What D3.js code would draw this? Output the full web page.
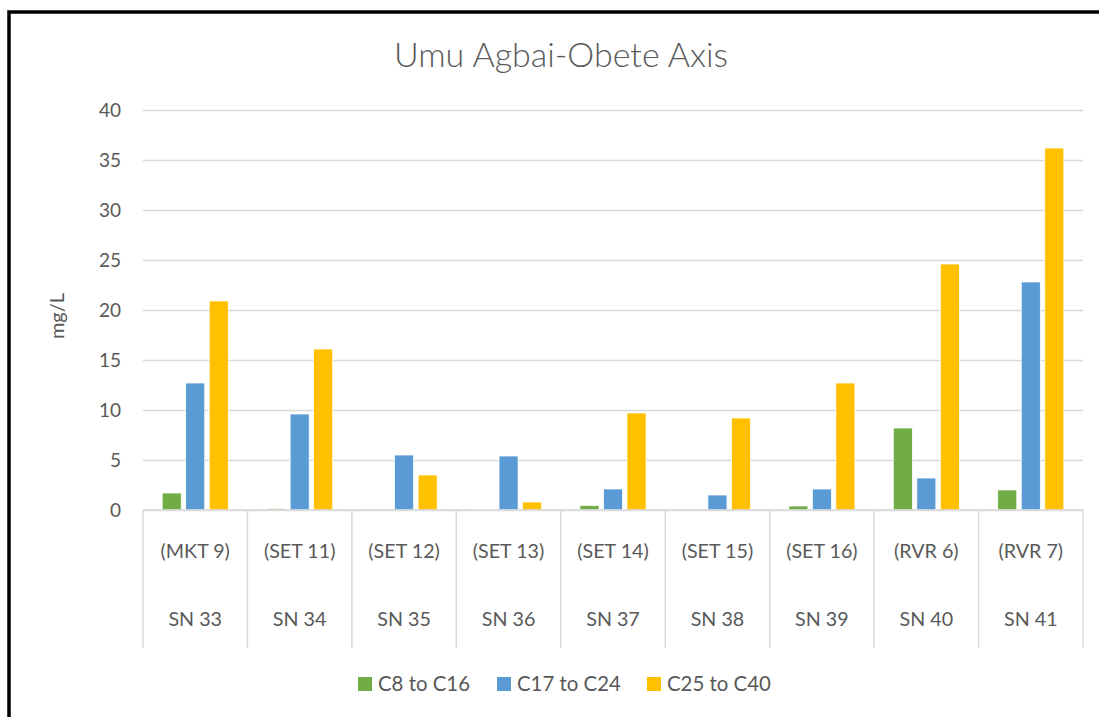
<!DOCTYPE html>
<html>
<head>
<meta charset="utf-8">
<script src="https://cdn.jsdelivr.net/npm/d3@7"></script>
<style>
  body { margin: 0; background: #fff; }
  text { font-family: Lato, "Open Sans", sans-serif; fill: #595959; }
</style>
</head>
<body>
<div id="vis"></div>
<script>
const width = 1099, height = 717;

// chart data
const sites = ["(MKT 9)", "(SET 11)", "(SET 12)", "(SET 13)", "(SET 14)", "(SET 15)", "(SET 16)", "(RVR 6)", "(RVR 7)"];
const samples = ["SN 33", "SN 34", "SN 35", "SN 36", "SN 37", "SN 38", "SN 39", "SN 40", "SN 41"];
const seriesNames = ["C8 to C16", "C17 to C24", "C25 to C40"];
const c8to16 = [1.7, 0.15, 0.1, 0.05, 0.45, 0.1, 0.4, 8.2, 2.0];
const c17to24 = [12.7, 9.6, 5.5, 5.4, 2.1, 1.5, 2.1, 3.2, 22.8];
const c25to40 = [20.9, 16.1, 3.5, 0.8, 9.7, 9.2, 12.7, 24.6, 36.2];
const yTicks = [0, 5, 10, 15, 20, 25, 30, 35, 40];

const colors = ["#70AD47", "#5B9BD5", "#FFC000"];
const seriesValues = [c8to16, c17to24, c25to40];

var svg = d3.select("#vis").append("svg")
  .attr("width", width).attr("height", height);

// chart frame (only left and top are visible in the crop)
svg.append("rect")
  .attr("x", 9).attr("y", 12)
  .attr("width", 1200).attr("height", 800)
  .attr("fill", "none")
  .attr("stroke", "#000")
  .attr("stroke-width", 3.5);

const plot = { left: 143, right: 1083, top: 110, bottom: 510 };

var x0 = d3.scaleBand().domain(samples).range([plot.left, plot.right]).padding(0);
var x1 = d3.scaleBand().domain(seriesNames)
  .range([0, x0.bandwidth()])
  .paddingInner(0.19).paddingOuter(0.815);
var y = d3.scaleLinear().domain([0, 40]).range([plot.bottom, plot.top]);

// title
svg.append("text")
  .attr("x", 561)
  .attr("y", 67)
  .attr("text-anchor", "middle")
  .attr("font-size", 34)
  .attr("font-weight", 300)
  .text("Umu Agbai-Obete Axis");

// gridlines + y labels
const yAxis = d3.axisLeft(y).tickValues(yTicks)
  .tickSize(-(plot.right - plot.left)).tickPadding(22);
const yG = svg.append("g")
  .attr("transform", `translate(${plot.left},0)`)
  .call(yAxis);
yG.select(".domain").remove();
yG.selectAll(".tick line").attr("stroke", "#d9d9d9").attr("stroke-width", 1.5);
yG.selectAll(".tick text")
  .attr("font-size", 19)
  .attr("font-family", "Lato, sans-serif")
  .attr("fill", "#595959");

// y title
svg.append("text")
  .attr("transform", `translate(64,${(plot.top + plot.bottom) / 2 + 6}) rotate(-90)`)
  .attr("text-anchor", "middle")
  .attr("font-size", 20)
  .text("mg/L");

// bars
const groups = svg.append("g").selectAll("g")
  .data(samples)
  .join("g")
  .attr("transform", (d) => `translate(${x0(d)},0)`);

groups.selectAll("rect")
  .data((d, i) => seriesNames.map((s, j) => ({ key: s, value: seriesValues[j][i], color: colors[j] })))
  .join("rect")
  .attr("x", (d) => x1(d.key))
  .attr("y", (d) => y(d.value))
  .attr("width", x1.bandwidth())
  .attr("height", (d) => y(0) - y(d.value))
  .attr("fill", (d) => d.color)
  .attr("stroke", "#fff")
  .attr("stroke-width", 0.75);

// axis baseline
svg.append("line")
  .attr("x1", plot.left).attr("x2", plot.right)
  .attr("y1", y(0)).attr("y2", y(0))
  .attr("stroke", "#d9d9d9").attr("stroke-width", 1.5);

// category separators (multi-level)
const seps = d3.range(samples.length + 1).map((i) => plot.left + i * x0.step());
svg.append("g").selectAll("line")
  .data(seps)
  .join("line")
  .attr("x1", (d) => d).attr("x2", (d) => d)
  .attr("y1", y(0)).attr("y2", 648)
  .attr("stroke", "#d9d9d9").attr("stroke-width", 1.5);

// category labels
svg.append("g").selectAll("text")
  .data(sites)
  .join("text")
  .attr("x", (d, i) => x0(samples[i]) + x0.bandwidth() / 2)
  .attr("y", 558)
  .attr("text-anchor", "middle")
  .attr("font-size", 19.7)
  .text((d) => d);

svg.append("g").selectAll("text")
  .data(samples)
  .join("text")
  .attr("x", (d) => x0(d) + x0.bandwidth() / 2)
  .attr("y", 626)
  .attr("text-anchor", "middle")
  .attr("font-size", 19.7)
  .text((d) => d);

// legend
const legendX = [358, 497, 647];
const legend = svg.append("g").selectAll("g")
  .data(seriesNames)
  .join("g")
  .attr("transform", (d, i) => `translate(${legendX[i]},677)`);
legend.append("rect")
  .attr("width", 14).attr("height", 14)
  .attr("fill", (d, i) => colors[i]);
legend.append("text")
  .attr("x", 20).attr("y", 14)
  .attr("font-size", 20.4)
  .text((d) => d);
</script>
</body>
</html>
